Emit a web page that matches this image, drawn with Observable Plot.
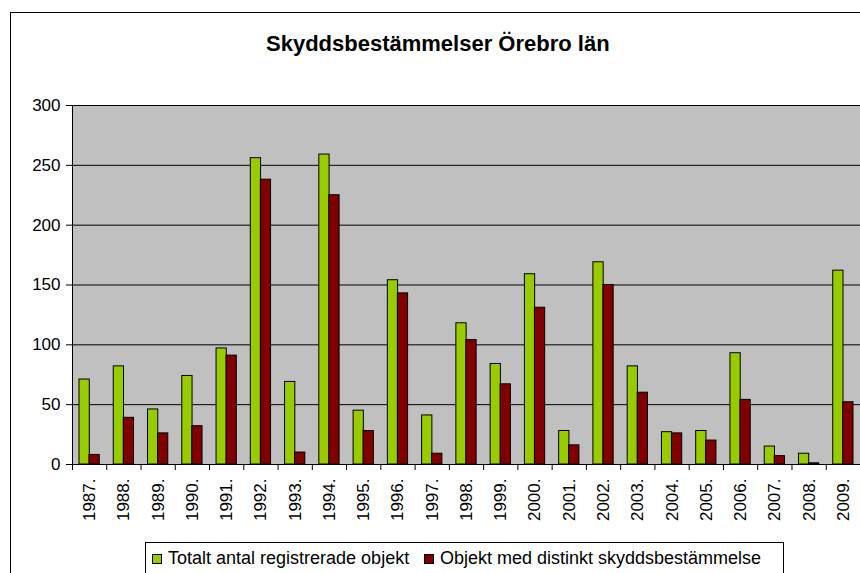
<!DOCTYPE html>
<html>
<head>
<meta charset="utf-8">
<script src="https://cdn.jsdelivr.net/npm/d3@7"></script>
<script src="https://cdn.jsdelivr.net/npm/@observablehq/plot@0.6"></script>
<style>
  html, body { margin: 0; padding: 0; background: #fff; }
  #wrap { position: relative; width: 860px; height: 573px; overflow: hidden; font-family: "Liberation Sans", Arial, sans-serif; color: #000; }
  #border { position: absolute; left: 10px; top: 12px; width: 1000px; height: 1000px; border: 1px solid #000; box-sizing: border-box; }
  #title { position: absolute; left: 266px; top: 33px; font-size: 22px; line-height: 22px; font-weight: bold; white-space: nowrap; }
  #chart { position: absolute; left: 0; top: 0; }
  #legend { position: absolute; left: 145px; top: 542px; width: 639px; height: 60px; border: 1px solid #000; box-sizing: border-box; background: #fff; }
  .item { position: absolute; top: 5px; display: flex; align-items: center; font-size: 18px; line-height: 20px; white-space: nowrap; }
  .sw { width: 10px; height: 10px; border: 1px solid #000; box-sizing: border-box; margin-right: 6px; margin-top: 2px; }
</style>
</head>
<body>
<div id="wrap">
  <div id="border"></div>
  <div id="title"></div>
  <div id="chart"></div>
  <div id="legend"></div>
</div>
<script>
const title = "Skyddsbestämmelser Örebro län";
const years = ["1987.","1988.","1989.","1990.","1991.","1992.","1993.","1994.","1995.","1996.","1997.","1998.","1999.","2000.","2001.","2002.","2003.","2004.","2005.","2006.","2007.","2008.","2009."];
const totalt = [71, 82, 46, 74, 97, 256, 69, 259, 45, 154, 41, 118, 84, 159, 28, 169, 82, 27, 28, 93, 15, 9, 162];
const objekt = [8, 39, 26, 32, 91, 238, 10, 225, 28, 143, 9, 104, 67, 131, 16, 150, 60, 26, 20, 54, 7, 1, 52];
const seriesNames = ["Totalt antal registrerade objekt", "Objekt med distinkt skyddsbestämmelse"];
const seriesColors = ["#99CC00", "#800000"];
const yTicks = [0, 50, 100, 150, 200, 250, 300];

const data = years.flatMap((y, i) => [
  {year: y, series: seriesNames[0], value: totalt[i]},
  {year: y, series: seriesNames[1], value: objekt[i]}
]);

const W = 860, ML = 72, MR = 0;
const half = (W - ML - MR) / years.length / 2;

document.getElementById("title").textContent = title;

const chart = Plot.plot({
  width: W,
  height: 534,
  marginTop: 105,
  marginBottom: 70,
  marginLeft: ML,
  marginRight: MR,
  style: {fontFamily: "'Liberation Sans', Arial, sans-serif", fontSize: "17px", color: "#000", background: "transparent", overflow: "visible"},
  x: {domain: years, padding: 0, round: false, label: null},
  y: {domain: [0, 300], label: null},
  marks: [
    Plot.frame({fill: "#C0C0C0", stroke: "#808080"}),
    Plot.gridY(yTicks.filter(d => d > 0), {stroke: "#000", strokeOpacity: 1}),
    Plot.barY(data, {filter: d => d.series === seriesNames[0], x: "year", y: "value", fill: seriesColors[0], stroke: "#000", strokeWidth: 1, insetLeft: 7, insetRight: 17}),
    Plot.barY(data, {filter: d => d.series === seriesNames[1], x: "year", y: "value", fill: seriesColors[1], stroke: "#000", strokeWidth: 1, insetLeft: 17, insetRight: 7}),
    Plot.ruleY([0], {stroke: "#000"}),
    Plot.ruleX([years[0]], {dx: -half, stroke: "#000"}),
    Plot.axisY({ticks: yTicks, tickSize: 6, tickPadding: 6, fontSize: 17}),
    Plot.axisX({tickSize: 6, dx: -half, tickFormat: () => ""}),
    Plot.axisX({tickSize: 0, tickRotate: -90, tickPadding: 14, fontSize: 17})
  ]
});
document.getElementById("chart").appendChild(chart);

const legend = document.getElementById("legend");
const lefts = [6, 278];
seriesNames.forEach((name, i) => {
  const item = document.createElement("div");
  item.className = "item";
  item.style.left = lefts[i] + "px";
  const sw = document.createElement("div");
  sw.className = "sw";
  sw.style.background = seriesColors[i];
  const t = document.createElement("span");
  t.textContent = name;
  item.appendChild(sw);
  item.appendChild(t);
  legend.appendChild(item);
});
</script>
</body>
</html>
